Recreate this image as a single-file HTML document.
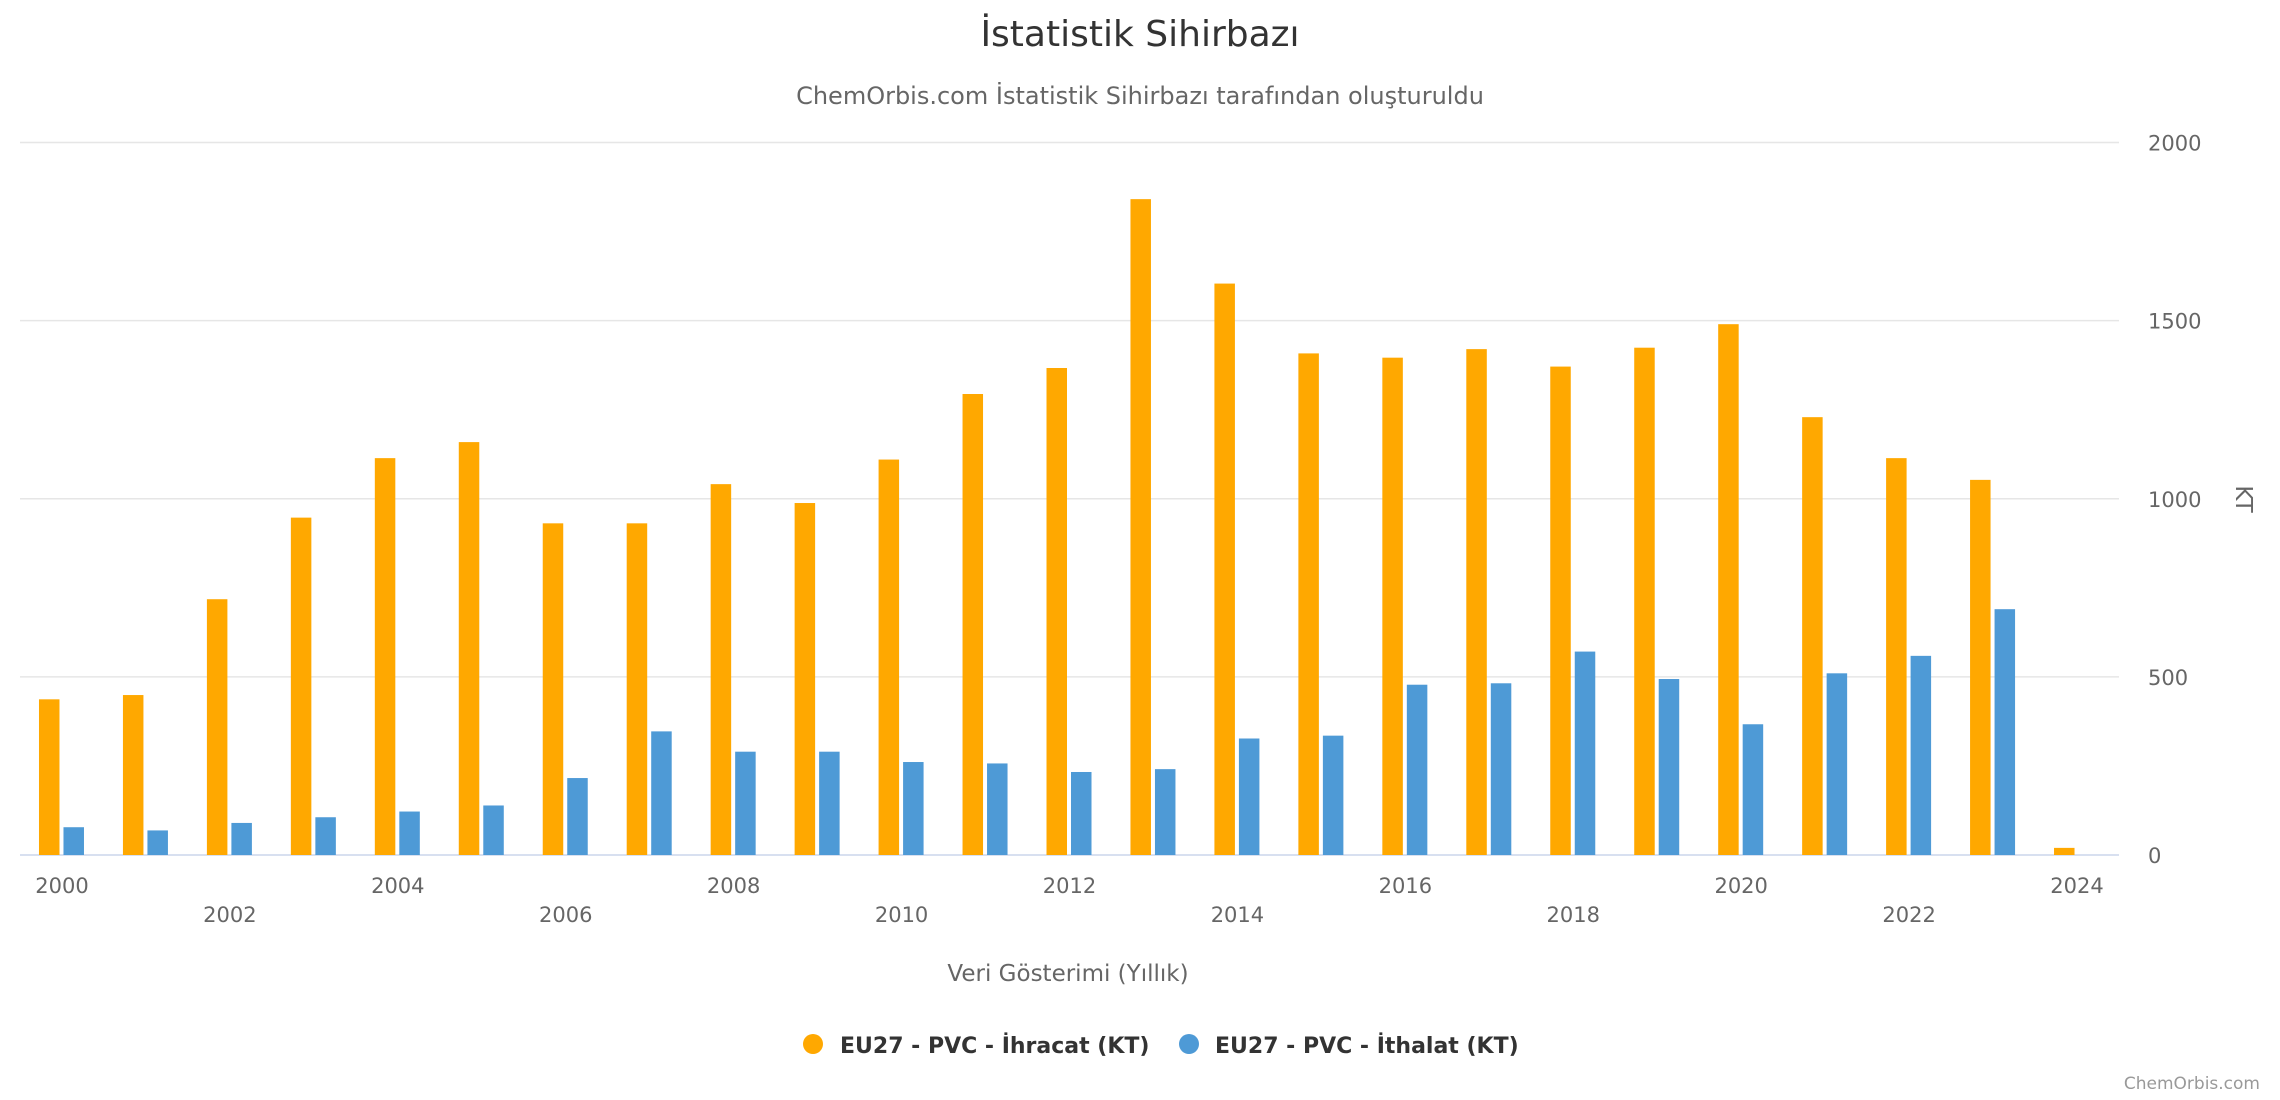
<!DOCTYPE html>
<html><head><meta charset="utf-8"><style>
body{margin:0;background:#fff;}
svg{display:block;font-family:"DejaVu Sans","Liberation Sans",sans-serif;}
</style></head><body>
<svg id="chart" width="2280" height="1100" viewBox="0 0 2280 1100">
<text x="1140" y="46" text-anchor="middle" font-size="36" fill="#333">İstatistik Sihirbazı</text>
<text x="1140" y="104" text-anchor="middle" font-size="24" fill="#666">ChemOrbis.com İstatistik Sihirbazı tarafından oluşturuldu</text>
<g id="grid"></g><g id="bars"></g><g id="xlabels"></g><g id="ylabels"></g>
<text x="1068" y="981" text-anchor="middle" font-size="23" fill="#666">Veri Gösterimi (Yıllık)</text>
<text transform="translate(2236,499) rotate(90)" text-anchor="middle" font-size="23" fill="#666">KT</text>
<g><circle cx="813" cy="1044" r="10" fill="#FFA800"/><text x="840" y="1053" font-size="22" font-weight="bold" fill="#333">EU27 - PVC - İhracat (KT)</text></g>
<g><circle cx="1189" cy="1044" r="10" fill="#4E9AD6"/><text x="1215" y="1053" font-size="22" font-weight="bold" fill="#333">EU27 - PVC - İthalat (KT)</text></g>
<text x="2260" y="1089" text-anchor="end" font-size="17" fill="#999">ChemOrbis.com</text>
</svg>
<script>
const years=[2000,2001,2002,2003,2004,2005,2006,2007,2008,2009,2010,2011,2012,2013,2014,2015,2016,2017,2018,2019,2020,2021,2022,2023,2024];
const exportVals=[437,449,718,947,1114,1159,931,931,1041,988,1110,1294,1367,1841,1604,1408,1396,1420,1371,1424,1490,1229,1114,1053,20];
const importVals=[78,69,90,106,122,139,216,347,290,290,261,257,233,241,327,335,478,482,571,494,367,510,559,690,null];
const yTicks=[0,500,1000,1500,2000];
const NS='http://www.w3.org/2000/svg';
const L=20,R=2119,T=142.5,B=855,yMax=2000;
const cw=(R-L)/years.length;
const y=v=>B-(v/yMax)*(B-T);
const xc=i=>L+cw*(i+0.5);
function mk(t,a,p){const e=document.createElementNS(NS,t);for(const k in a)e.setAttribute(k,a[k]);p.appendChild(e);return e;}
const grid=document.getElementById('grid'),bars=document.getElementById('bars'),xl=document.getElementById('xlabels'),yl=document.getElementById('ylabels');
yTicks.forEach(t=>{
 const ln=mk('line',{x1:L,x2:R,y1:y(t),y2:y(t),stroke:t===0?'#ccd6eb':'#e6e6e6','stroke-width':1.5},grid);
 
 
 const tx=mk('text',{x:2148,y:y(t)+8,'font-size':21,fill:'#666'},yl);
 tx.textContent=t;
 
 
});
years.forEach((yr,i)=>{
 const c=xc(i);
 if(exportVals[i]!=null){
  const r=mk('rect',{x:c-23,y:y(exportVals[i]),width:20.5,height:B-y(exportVals[i]),fill:'#FFA800'},bars);
  
  
 }
 if(importVals[i]!=null){
  const r=mk('rect',{x:c+1.5,y:y(importVals[i]),width:20.5,height:B-y(importVals[i]),fill:'#4E9AD6'},bars);
  
  
 }
 if(yr%2===0){
  const row=(yr/2)%2===0?0:1;
  const tx=mk('text',{x:c,y:row?922:893,'text-anchor':'middle','font-size':21,fill:'#666'},xl);
  tx.textContent=yr;
  
  
 }
});
</script>
</body></html>
